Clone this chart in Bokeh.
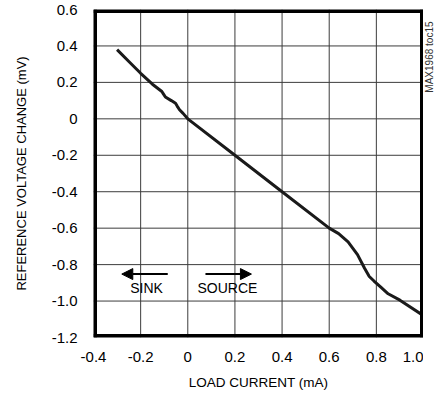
import math
from bokeh.plotting import figure
from bokeh.layouts import row
from bokeh.models import Label, Arrow, NormalHead, FixedTicker, ColumnDataSource, Spacer
from bokeh.embed import file_html
from bokeh.resources import INLINE

# ---- data ----
load_current = [-0.30, -0.25, -0.20, -0.15, -0.11, -0.105, -0.095, -0.07, -0.052,
                -0.045, -0.035, -0.02, 0.0, 0.2, 0.4, 0.6, 0.64, 0.68, 0.72, 0.75,
                0.77, 0.79, 0.82, 0.85, 0.9, 1.0]
ref_change = [0.38, 0.315, 0.25, 0.19, 0.15, 0.14, 0.12, 0.10, 0.085,
              0.07, 0.05, 0.03, 0.0, -0.2, -0.4, -0.6, -0.63, -0.675, -0.745, -0.82,
              -0.865, -0.89, -0.925, -0.96, -0.995, -1.08]

x_ticks = [-0.4, -0.2, 0.0, 0.2, 0.4, 0.6, 0.8, 1.0]
x_tick_labels = ["-0.4", "-0.2", "0", "0.2", "0.4", "0.6", "0.8", "1.0"]
y_ticks = [-1.2, -1.0, -0.8, -0.6, -0.4, -0.2, 0.0, 0.2, 0.4, 0.6]
y_tick_labels = ["-1.2", "-1.0", "-0.8", "-0.6", "-0.4", "-0.2", "0", "0.2", "0.4", "0.6"]

FONT = "Liberation Sans"
X_MIN, X_MAX = x_ticks[0], x_ticks[-1]
Y_MIN, Y_MAX = y_ticks[0], y_ticks[-1]

p = figure(frame_width=330, frame_height=328, x_range=(X_MIN, X_MAX), y_range=(Y_MIN, Y_MAX),
           output_backend="svg", toolbar_location=None,
           min_border_left=0, min_border_right=0, min_border_top=9, min_border_bottom=0)

p.background_fill_color = "white"
p.outline_line_color = None
p.grid.visible = False

for ax, ticks, labels in ((p.xaxis[0], x_ticks, x_tick_labels), (p.yaxis[0], y_ticks, y_tick_labels)):
    ax.ticker = FixedTicker(ticks=ticks)
    ax.major_label_overrides = {t: l for t, l in zip(ticks, labels)}
    ax.axis_line_color = None
    ax.major_tick_line_color = None
    ax.minor_tick_line_color = None
    ax.major_tick_out = 0
    ax.major_tick_in = 0
    ax.major_label_text_font = FONT
    ax.major_label_text_font_size = "15px"
    ax.major_label_text_color = "black"
    ax.axis_label_text_font = FONT
    ax.axis_label_text_font_size = "13.5px"
    ax.axis_label_text_font_style = "normal"
    ax.axis_label_text_color = "black"

p.xaxis.axis_label = "LOAD CURRENT (mA)"
p.yaxis.axis_label = "REFERENCE VOLTAGE CHANGE (mV)"
p.yaxis.axis_label_text_font_size = "13px"
p.xaxis.major_label_standoff = 14
p.xaxis.axis_label_standoff = 10
p.yaxis.major_label_standoff = 16
p.yaxis.axis_label_standoff = 20

# grid lines as glyphs at the tick positions
gx = x_ticks[1:-1]
gy = y_ticks[1:-1]
p.segment(x0=gx, y0=[Y_MIN] * len(gx), x1=gx, y1=[Y_MAX] * len(gx),
          line_color="#3c3c3c", line_width=1)
p.segment(x0=[X_MIN] * len(gy), y0=gy, x1=[X_MAX] * len(gy), y1=gy,
          line_color="#3c3c3c", line_width=1)

src = ColumnDataSource(dict(x=load_current, y=ref_change))
p.line("x", "y", source=src, line_color="#1a1a1a", line_width=3)

# frame border (half of the stroke is clipped by the frame)
p.segment(x0=[X_MIN, X_MAX, X_MIN, X_MIN], y0=[Y_MIN, Y_MIN, Y_MIN, Y_MAX],
          x1=[X_MIN, X_MAX, X_MAX, X_MAX], y1=[Y_MAX, Y_MAX, Y_MIN, Y_MAX],
          line_color="black", line_width=7)

# arrows
p.add_layout(Arrow(end=NormalHead(size=11, fill_color="black", line_color="black"),
                   x_start=-0.085, y_start=-0.852, x_end=-0.28, y_end=-0.852,
                   line_color="black", line_width=2))
p.add_layout(Arrow(end=NormalHead(size=11, fill_color="black", line_color="black"),
                   x_start=0.075, y_start=-0.852, x_end=0.27, y_end=-0.852,
                   line_color="black", line_width=2))

p.add_layout(Label(x=-0.175, y=-0.93, text="SINK", text_align="center", text_baseline="middle",
                   text_font=FONT, text_font_size="14px", text_color="black"))
p.add_layout(Label(x=0.168, y=-0.93, text="SOURCE", text_align="center", text_baseline="middle",
                   text_font=FONT, text_font_size="14px", text_color="black"))

# narrow companion figure holding the vertical note "MAX1968 toc15"
p2 = figure(frame_width=12, frame_height=380, x_range=(0, 12), y_range=(0, 380),
            output_backend="svg", toolbar_location=None,
            min_border_left=0, min_border_right=0, min_border_top=0, min_border_bottom=0)
p2.outline_line_color = None
p2.grid.visible = False
p2.axis.visible = False
p2.add_layout(Label(x=6, y=368, text="MAX1968 toc15", angle=math.pi / 2,
                    text_align="right", text_baseline="middle",
                    text_font=FONT, text_font_size="10px", text_color="#333333"))

layout = row(Spacer(width=10), p, p2, spacing=0)
open("out.html", "w").write(file_html(layout, INLINE))
